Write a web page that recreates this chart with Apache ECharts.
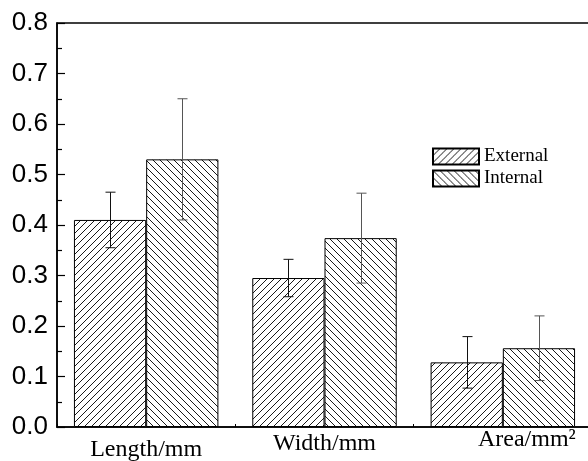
<!DOCTYPE html>
<html>
<head>
<meta charset="utf-8">
<script src="https://cdn.jsdelivr.net/npm/echarts@6/dist/echarts.min.js"></script>
<style>html,body{margin:0;padding:0;background:#fff}#c{width:588px;height:461px}</style>
</head>
<body>
<div id="c"></div>
<script>
// ---- data ----
const categories = ['Length/mm', 'Width/mm', 'Area/mm²'];
const seriesNames = ['External', 'Internal'];
const externalValues = [0.41, 0.295, 0.128];
const internalValues = [0.53, 0.374, 0.156];
const externalErr = [0.055, 0.037, 0.051];
const internalErr = [0.12, 0.089, 0.064];
const yMin = 0, yMax = 0.8, yStep = 0.1;

function hatch(dir) {
  const n = 7;
  const cv = document.createElement('canvas');
  cv.width = n; cv.height = n;
  const ctx = cv.getContext('2d');
  ctx.fillStyle = '#fff';
  ctx.fillRect(0, 0, n, n);
  ctx.fillStyle = '#1a1a1a';
  for (let i = 0; i < n; i++) {
    const y = dir === '/' ? (n - 1 - i) : i;
    ctx.fillRect(i, y, 1, 1);
  }
  return { image: cv, repeat: 'repeat' };
}

const gapRatio = 0.19;
const chart = echarts.init(document.getElementById('c'));

function errSeries(vals, errs, side, color) {
  return {
    type: 'custom',
    z: 5,
    silent: true,
    data: vals.map((v, i) => [i, v - errs[i], v + errs[i]]),
    renderItem: function (params, api) {
      const catW = api.size([1, 0])[0];
      const bw = catW * (1 - gapRatio) / 2;
      const lo = api.coord([api.value(0), api.value(1)]);
      const hi = api.coord([api.value(0), api.value(2)]);
      const x = Math.round(lo[0] + side * bw / 2) + 0.5;
      const cap = 5;
      const st = { stroke: color, lineWidth: 1 };
      return {
        type: 'group',
        children: [
          { type: 'line', shape: { x1: x, y1: hi[1], x2: x, y2: lo[1] }, style: st },
          { type: 'line', shape: { x1: x - cap, y1: hi[1], x2: x + cap, y2: hi[1] }, style: st },
          { type: 'line', shape: { x1: x - cap, y1: lo[1], x2: x + cap, y2: lo[1] }, style: st }
        ]
      };
    }
  };
}

const option = {
  animation: false,
  backgroundColor: '#fff',
  grid: {
    left: 57, top: 23, right: -4, bottom: 34,
    show: true, borderColor: '#000', borderWidth: 1.5,
    outerBoundsMode: 'none', containLabel: false
  },
  legend: {
    orient: 'vertical',
    left: 432, top: 147,
    padding: 0,
    itemGap: 3,
    itemWidth: 46, itemHeight: 16,
    icon: 'rect',
    data: seriesNames,
    textStyle: { fontFamily: 'Liberation Serif', fontSize: 19, color: '#000', padding: [0, 0, 0, 0] }
  },
  xAxis: {
    type: 'category',
    data: categories,
    axisLine: { lineStyle: { color: '#000', width: 1.5 } },
    axisTick: { show: true, inside: true, length: 3, lineStyle: { color: '#000' } },
    splitLine: { show: false },
    axisLabel: {
      margin: 2,
      verticalAlign: 'top',
      interval: 0,
      formatter: function (v) {
        if (v.indexOf('Length') === 0) return '{l|' + v + '}';
        if (v.indexOf('Width') === 0) return '{w|' + v + '}';
        return '{a|' + v + '}';
      },
      rich: {
        l: { fontFamily: 'Liberation Serif', fontSize: 24, color: '#000', lineHeight: 42 },
        w: { fontFamily: 'Liberation Serif', fontSize: 24, color: '#000', lineHeight: 29 },
        a: { fontFamily: 'Liberation Serif', fontSize: 24, color: '#000', lineHeight: 22, padding: [0, 0, 0, 48] }
      }
    }
  },
  yAxis: {
    type: 'value',
    min: yMin, max: yMax, interval: yStep,
    axisLine: { show: true, lineStyle: { color: '#000', width: 1.5 } },
    axisTick: { show: true, inside: true, length: 8, lineStyle: { color: '#000', width: 1.2 } },
    minorTick: { show: true, splitNumber: 2, length: 5, lineStyle: { color: '#000', width: 1.2 } },
    splitLine: { show: false },
    axisLabel: {
      margin: 9,
      fontFamily: 'Liberation Sans', fontSize: 26, color: '#000',
      formatter: v => v.toFixed(1)
    }
  },
  series: [
    {
      name: seriesNames[0], type: 'bar', data: externalValues,
      barGap: '0%', barCategoryGap: (gapRatio * 100) + '%',
      itemStyle: { color: hatch('/'), borderColor: '#000', borderWidth: 1 }
    },
    {
      name: seriesNames[1], type: 'bar', data: internalValues,
      barGap: '0%', barCategoryGap: (gapRatio * 100) + '%',
      itemStyle: { color: hatch('\\'), borderColor: '#000', borderWidth: 1 }
    },
    errSeries(externalValues, externalErr, -1, '#111'),
    errSeries(internalValues, internalErr, 1, '#555')
  ]
};
chart.setOption(option);
</script>
</body>
</html>
